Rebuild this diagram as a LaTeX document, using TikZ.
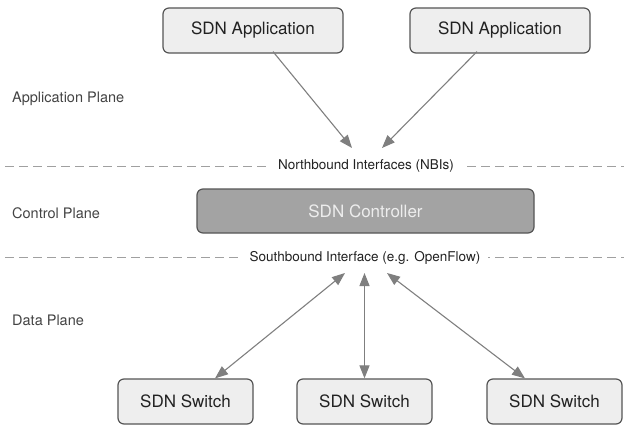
\documentclass[tikz,border=0pt]{standalone}
\usepackage{fontspec}
\setmainfont{TeX Gyre Heros}
\usetikzlibrary{arrows.meta}
\definecolor{boxfill}{HTML}{EEEEEE}
\definecolor{boxline}{HTML}{555555}
\definecolor{ctrlfill}{HTML}{A3A3A3}
\definecolor{arrowc}{HTML}{7F7F7F}
\definecolor{dashc}{HTML}{A0A0A0}
\definecolor{txt}{HTML}{222222}
\tikzset{
  boxstyle/.style={draw=boxline, fill=boxfill, rounded corners=6pt, line width=1.2pt,
    inner sep=0pt, text=txt, font=\fontsize{17}{20}\selectfont},
  ctrlstyle/.style={draw=boxline, fill=ctrlfill, rounded corners=6pt, line width=1.2pt,
    inner sep=0pt, text=white!93!black, font=\fontsize{17}{20}\selectfont},
  planelabel/.style={anchor=west, inner sep=0pt, text=txt!85!white, font=\fontsize{14.5}{17}\selectfont},
  ifacelabel/.style={fill=white, inner xsep=8pt, inner ysep=2pt, text=txt, font=\fontsize{13.5}{16}\selectfont},
  dashline/.style={draw=dashc, line width=0.9pt, dash pattern=on 9pt off 5pt},
  arrowline/.style={draw=arrowc, line width=1.1pt},
  tip/.style={-{Triangle[length=13pt,width=10pt]}},
  bothtip/.style={{Triangle[length=13pt,width=10pt]}-{Triangle[length=13pt,width=10pt]}},
}
\begin{document}
\begin{tikzpicture}[x=1pt, y=-1pt]
\useasboundingbox (0,0) rectangle (624,425);

% plane labels
\node[planelabel] (lapp) at (12,99) {Application Plane};
\node[planelabel] (lctl) at (12,213) {Control Plane};
\node[planelabel] (ldat) at (12,320) {Data Plane};

% interface dashed lines
\coordinate (nbiA) at (5,166);
\coordinate (nbiB) at (624,166);
\coordinate (sbiA) at (5,257.5);
\coordinate (sbiB) at (624,257.5);
\draw[dashline] (nbiA) -- (nbiB);
\draw[dashline] (sbiA) -- (sbiB);
\node[ifacelabel] (nbi) at (366,166) {Northbound Interfaces (NBIs)};
\node[ifacelabel] (sbi) at (365,257.5) {Southbound Interface (e.g. OpenFlow)};

% boxes
\node[boxstyle, minimum width=180pt, minimum height=45pt] (app1) at (253,30.5) {SDN Application};
\node[boxstyle, minimum width=180pt, minimum height=45pt] (app2) at (500,30.5) {SDN Application};
\node[ctrlstyle, minimum width=337pt, minimum height=44pt] (ctrl) at (365.5,211) {SDN Controller};
\node[boxstyle, minimum width=135pt, minimum height=45pt] (sw1) at (185.5,401.5) {SDN Switch};
\node[boxstyle, minimum width=135pt, minimum height=45pt] (sw2) at (364.5,401.5) {SDN Switch};
\node[boxstyle, minimum width=135pt, minimum height=45pt] (sw3) at (554.5,401.5) {SDN Switch};

% arrow end points
\coordinate (nL) at (352,148);
\coordinate (nR) at (382,148);
\coordinate (sL) at (345,273);
\coordinate (sM) at (364.5,273);
\coordinate (sR) at (387,273);

% arrows
\draw[arrowline, tip] ([xshift=20pt, yshift=2pt]app1.south) -- (nL);
\draw[arrowline, tip] ([xshift=-23pt, yshift=2pt]app2.south) -- (nR);
\draw[arrowline, bothtip] ([xshift=29.5pt]sw1.north) -- (sL);
\draw[arrowline, bothtip] (sw2.north) -- (sM);
\draw[arrowline, bothtip] ([xshift=-29.5pt]sw3.north) -- (sR);
\end{tikzpicture}
\end{document}
